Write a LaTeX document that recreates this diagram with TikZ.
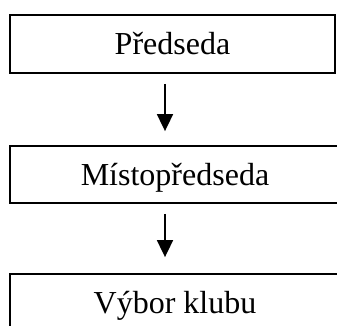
\documentclass[tikz,border=0pt]{standalone}
\usepackage{fontspec}
\setmainfont{Liberation Serif}
\usetikzlibrary{positioning, arrows.meta}

\tikzset{
  funkce/.style={draw, line width=1.8pt, minimum width=330pt, minimum height=57pt,
    text height=22pt, text depth=0pt, inner sep=0pt,
    font=\fontsize{32}{38}\selectfont},
  sipka/.style={line width=1.8pt, -{Triangle[length=17pt,width=16pt]}}
}

\begin{document}
\begin{tikzpicture}[x=1pt,y=1pt]

\useasboundingbox (0,0) rectangle (337,-326);

\node[funkce, minimum width=325pt, minimum height=58pt] (predseda) at (172.5,-44) {Předseda};
\node[funkce] (mistopredseda) at (175,-174.5) {Místopředseda};
\node[funkce] (vybor) at (175,-302.5) {Výbor klubu};

\draw [sipka, shorten <=10pt, shorten >=14pt] ([xshift=-7.5pt]predseda.south) -- ([xshift=-7.5pt]predseda.south |- mistopredseda.north);
\draw [sipka, shorten <=10pt, shorten >=16pt] ([xshift=-10pt]mistopredseda.south) -- ([xshift=-10pt]mistopredseda.south |- vybor.north);

\end{tikzpicture}
\end{document}
